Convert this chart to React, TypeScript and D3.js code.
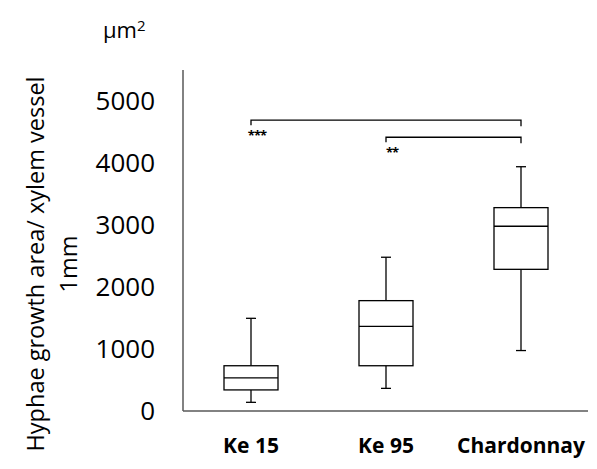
import { useRef, useEffect } from "react";
import * as d3 from "d3";

const categories = ["Ke 15", "Ke 95", "Chardonnay"];
const whiskerLow = [140, 365, 975];
const boxLow = [340, 730, 2285];
const medians = [535, 1365, 2980];
const boxHigh = [730, 1780, 3280];
const whiskerHigh = [1495, 2480, 3940];
const yTicks = [0, 1000, 2000, 3000, 4000, 5000];

// significance brackets
const brackets = [
  { from: "Ke 15", to: "Chardonnay", level: 4690, label: "***" },
  { from: "Ke 95", to: "Chardonnay", level: 4415, label: "**" },
];

const App = () => {
  const svgRef = useRef(null);

  useEffect(() => {
    document.body.style.margin = "0";
    d3.select(svgRef.current).selectAll("*").remove();

    const width = 597;
    const height = 469;
    const font = "'Open Sans', 'Noto Sans', sans-serif";

    const svg = d3
      .select(svgRef.current)
      .attr("width", width)
      .attr("height", height)
      .style("background", "#fff");

    const y = d3.scaleLinear().domain([0, 5000]).range([411, 101]);
    const x = d3
      .scalePoint()
      .domain(categories)
      .range([251, 521]);

    const axisColor = "#595959";

    // axes
    svg
      .append("line")
      .attr("x1", 183)
      .attr("x2", 183)
      .attr("y1", y(5500))
      .attr("y2", y(0))
      .attr("stroke", axisColor)
      .attr("stroke-width", 1.5);
    svg
      .append("line")
      .attr("x1", 183)
      .attr("x2", 588)
      .attr("y1", y(0))
      .attr("y2", y(0))
      .attr("stroke", axisColor)
      .attr("stroke-width", 1.5);

    svg
      .selectAll(".ytick")
      .data(yTicks)
      .enter()
      .append("text")
      .attr("x", 155)
      .attr("y", (d) => y(d))
      .attr("dy", "0.35em")
      .attr("text-anchor", "end")
      .style("font-family", font)
      .style("font-size", "26px")
      .style("fill", "#000")
      .text((d) => d);

    svg
      .selectAll(".xlab")
      .data(categories)
      .enter()
      .append("text")
      .attr("x", (d) => x(d))
      .attr("y", 446)
      .attr("dy", "0.35em")
      .attr("text-anchor", "middle")
      .style("font-family", font)
      .style("font-size", "21px")
      .style("font-weight", "bold")
      .style("fill", "#000")
      .text((d) => d);

    // y axis title
    const title = svg
      .append("text")
      .attr("transform", "translate(36,264) rotate(-90)")
      .attr("text-anchor", "middle")
      .style("font-family", font)
      .style("font-size", "23.5px")
      .style("fill", "#000");
    title.append("tspan").attr("x", 0).attr("dy", "0.35em").text("Hyphae growth area/ xylem vessel");
    title.append("tspan").attr("x", 0).attr("dy", "1.4em").text("1mm");

    const unit = svg
      .append("text")
      .attr("x", 103)
      .attr("y", 38)
      .style("font-family", font)
      .style("font-size", "22px")
      .style("fill", "#000");
    unit.append("tspan").text("µm");
    unit.append("tspan").attr("dy", "-0.5em").style("font-size", "15px").text("2");

    // boxes
    const boxW = 54;
    const capW = 10;
    const g = svg
      .selectAll(".box")
      .data(categories)
      .enter()
      .append("g")
      .attr("fill", "none")
      .attr("stroke", "#000")
      .attr("stroke-width", 1.3);

    g.append("line")
      .attr("x1", (d) => x(d))
      .attr("x2", (d) => x(d))
      .attr("y1", (d, i) => y(whiskerHigh[i]))
      .attr("y2", (d, i) => y(boxHigh[i]));
    g.append("line")
      .attr("x1", (d) => x(d))
      .attr("x2", (d) => x(d))
      .attr("y1", (d, i) => y(boxLow[i]))
      .attr("y2", (d, i) => y(whiskerLow[i]));
    g.append("line")
      .attr("x1", (d) => x(d) - capW / 2)
      .attr("x2", (d) => x(d) + capW / 2)
      .attr("y1", (d, i) => y(whiskerHigh[i]))
      .attr("y2", (d, i) => y(whiskerHigh[i]));
    g.append("line")
      .attr("x1", (d) => x(d) - capW / 2)
      .attr("x2", (d) => x(d) + capW / 2)
      .attr("y1", (d, i) => y(whiskerLow[i]))
      .attr("y2", (d, i) => y(whiskerLow[i]));
    g.append("rect")
      .attr("x", (d) => x(d) - boxW / 2)
      .attr("width", boxW)
      .attr("y", (d, i) => y(boxHigh[i]))
      .attr("height", (d, i) => y(boxLow[i]) - y(boxHigh[i]))
      .attr("fill", "#fff");
    g.append("line")
      .attr("x1", (d) => x(d) - boxW / 2)
      .attr("x2", (d) => x(d) + boxW / 2)
      .attr("y1", (d, i) => y(medians[i]))
      .attr("y2", (d, i) => y(medians[i]));

    // significance brackets
    brackets.forEach((b) => {
      const x1 = x(b.from);
      const x2 = x(b.to);
      const yy = y(b.level);
      svg
        .append("path")
        .attr("d", `M${x1},${yy + 5}V${yy}H${x2}V${yy + 6}`)
        .attr("fill", "none")
        .attr("stroke", "#000")
        .attr("stroke-width", 1.3);
      svg
        .append("text")
        .attr("x", x1 + 6)
        .attr("y", yy + 20)
        .attr("text-anchor", "middle")
        .style("font-family", font)
        .style("font-size", "13px")
        .style("font-weight", "bold")
        .style("letter-spacing", "-1px")
        .style("fill", "#000")
        .text(b.label);
    });
  }, []);

  return (
    <div style={{ width: 597, height: 469 }}>
      <svg ref={svgRef}></svg>
    </div>
  );
};

export default App;
